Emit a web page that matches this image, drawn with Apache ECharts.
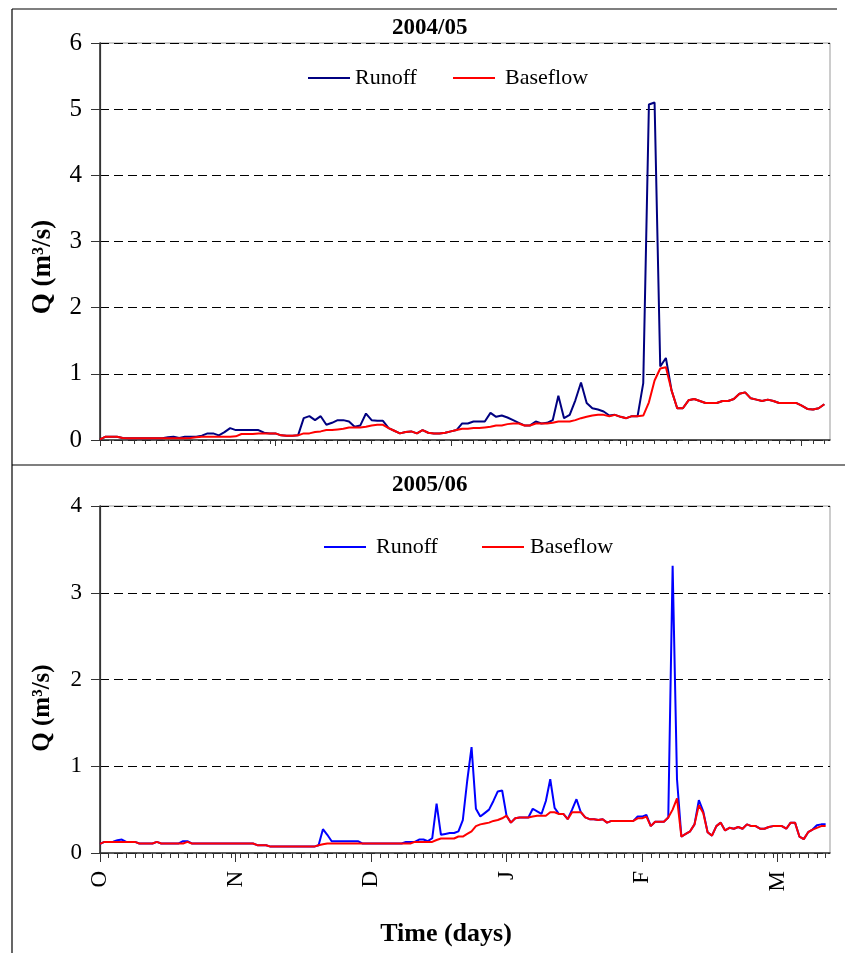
<!DOCTYPE html>
<html><head><meta charset="utf-8">
<script src="https://cdn.jsdelivr.net/npm/echarts@6/dist/echarts.min.js"></script>
<style>html,body{margin:0;padding:0;background:#fff}#c{width:845px;height:953px}</style>
</head><body><div id="c"></div>
<script>
// ---- data (daily discharge, m3/s) ----
const panelTitles = ['2004/05', '2005/06'];
const seriesNames = ['Runoff', 'Baseflow'];
const monthLabels = ['O', 'N', 'D', 'J', 'F', 'M'];
const monthStep = 31;

const topRunoff = [
0.01,0.05,0.05,0.05,0.03,0.025,0.025,0.025,0.025,0.025,
0.025,0.025,0.04,0.05,0.03,0.05,0.05,0.05,0.065,0.1,
0.1,0.07,0.12,0.18,0.15,0.15,0.15,0.15,0.15,0.11,
0.1,0.1,0.07,0.065,0.065,0.07,0.33,0.36,0.3,0.36,
0.23,0.26,0.3,0.3,0.28,0.2,0.22,0.4,0.3,0.29,
0.29,0.18,0.14,0.1,0.12,0.13,0.1,0.15,0.11,0.1,
0.1,0.11,0.13,0.15,0.25,0.25,0.28,0.28,0.28,0.41,
0.35,0.37,0.34,0.3,0.26,0.22,0.22,0.28,0.25,0.26,
0.3,0.67,0.33,0.38,0.6,0.87,0.56,0.48,0.46,0.43,
0.37,0.38,0.35,0.33,0.36,0.36,0.86,5.07,5.1,1.11,
1.24,0.75,0.48,0.48,0.6,0.62,0.59,0.56,0.56,0.56,
0.59,0.59,0.62,0.7,0.72,0.63,0.61,0.59,0.61,0.59,
0.56,0.56,0.56,0.56,0.52,0.47,0.46,0.48,0.54];

const topBaseflow = [
0.01,0.05,0.05,0.05,0.03,0.025,0.025,0.025,0.025,0.025,
0.025,0.025,0.025,0.025,0.025,0.025,0.03,0.04,0.05,0.05,
0.05,0.05,0.05,0.05,0.055,0.09,0.09,0.09,0.1,0.1,
0.1,0.1,0.07,0.065,0.065,0.07,0.1,0.1,0.12,0.13,
0.15,0.15,0.16,0.17,0.19,0.19,0.19,0.2,0.22,0.23,
0.23,0.18,0.14,0.1,0.12,0.13,0.1,0.15,0.11,0.1,
0.1,0.11,0.13,0.15,0.17,0.17,0.18,0.18,0.19,0.2,
0.22,0.22,0.24,0.25,0.25,0.22,0.22,0.25,0.25,0.25,
0.26,0.28,0.28,0.28,0.3,0.33,0.35,0.37,0.38,0.38,
0.36,0.38,0.35,0.33,0.36,0.36,0.37,0.57,0.9,1.08,
1.1,0.75,0.48,0.48,0.6,0.62,0.59,0.56,0.56,0.56,
0.59,0.59,0.62,0.7,0.72,0.63,0.61,0.59,0.61,0.59,
0.56,0.56,0.56,0.56,0.52,0.47,0.46,0.48,0.54];

const bottomRunoff = [
0.105,0.128,0.128,0.13,0.147,0.155,0.128,0.128,0.128,0.11,
0.11,0.11,0.11,0.128,0.11,0.11,0.11,0.11,0.11,0.136,
0.136,0.11,0.11,0.11,0.11,0.11,0.11,0.11,0.11,0.11,
0.11,0.11,0.11,0.11,0.11,0.11,0.09,0.09,0.09,0.074,
0.074,0.074,0.074,0.074,0.074,0.074,0.074,0.074,0.074,0.074,
0.09,0.275,0.21,0.136,0.136,0.136,0.136,0.136,0.136,0.136,
0.11,0.11,0.11,0.11,0.11,0.11,0.11,0.11,0.11,0.11,
0.128,0.128,0.128,0.155,0.155,0.136,0.17,0.57,0.21,0.22,
0.23,0.23,0.25,0.38,0.83,1.22,0.51,0.42,0.46,0.5,
0.6,0.71,0.72,0.43,0.35,0.4,0.41,0.41,0.41,0.51,
0.48,0.45,0.6,0.85,0.52,0.45,0.45,0.39,0.5,0.62,
0.47,0.41,0.39,0.39,0.38,0.39,0.35,0.37,0.37,0.37,
0.37,0.37,0.37,0.42,0.42,0.44,0.31,0.36,0.36,0.36,
0.41,3.31,0.85,0.19,0.22,0.25,0.33,0.61,0.48,0.24,
0.2,0.31,0.35,0.26,0.29,0.28,0.3,0.28,0.33,0.31,
0.31,0.28,0.28,0.3,0.31,0.31,0.31,0.28,0.35,0.35,
0.19,0.16,0.24,0.27,0.32,0.33,0.33];

const bottomBaseflow = [
0.105,0.128,0.128,0.128,0.128,0.128,0.128,0.128,0.128,0.11,
0.11,0.11,0.11,0.128,0.11,0.11,0.11,0.11,0.11,0.11,
0.128,0.11,0.11,0.11,0.11,0.11,0.11,0.11,0.11,0.11,
0.11,0.11,0.11,0.11,0.11,0.11,0.09,0.09,0.09,0.074,
0.074,0.074,0.074,0.074,0.074,0.074,0.074,0.074,0.074,0.074,
0.09,0.1,0.11,0.11,0.11,0.11,0.11,0.11,0.11,0.11,
0.11,0.11,0.11,0.11,0.11,0.11,0.11,0.11,0.11,0.11,
0.11,0.11,0.128,0.128,0.128,0.128,0.128,0.15,0.167,0.167,
0.167,0.167,0.19,0.19,0.22,0.25,0.31,0.33,0.34,0.35,
0.37,0.38,0.4,0.43,0.35,0.4,0.41,0.41,0.41,0.42,
0.43,0.43,0.43,0.47,0.47,0.45,0.45,0.39,0.47,0.47,
0.47,0.41,0.39,0.39,0.38,0.39,0.35,0.37,0.37,0.37,
0.37,0.37,0.37,0.4,0.4,0.42,0.31,0.36,0.36,0.36,
0.41,0.5,0.63,0.19,0.22,0.25,0.33,0.55,0.46,0.24,
0.2,0.31,0.35,0.26,0.29,0.28,0.3,0.28,0.33,0.31,
0.31,0.28,0.28,0.3,0.31,0.31,0.31,0.28,0.35,0.35,
0.19,0.16,0.24,0.27,0.29,0.31,0.31];

// ---- build ----
const FONT = "'Liberation Serif', 'Times New Roman', serif";
const topMax = topRunoff.length;      // axis extent in days
const botMax = bottomRunoff.length;
const pairs = a => a.map((v, i) => [i, v]);
function stepValues(max, step) { const r = []; for (let v = 0; v < max; v += step) r.push(v); return r; }
const topMajor = stepValues(topMax, monthStep);
const botMajor = stepValues(botMax, monthStep);

const chart = echarts.init(document.getElementById('c'), null, {renderer: 'canvas'});

function yAxisCfg(grid, max, fs) {
  return {
    gridIndex: grid, type: 'value', min: 0, max: max, interval: 1,
    axisLine: {show: true, lineStyle: {color: '#333', width: 1.5}},
    axisTick: {show: true, length: 9, lineStyle: {color: '#333'}},
    axisLabel: {fontFamily: FONT, fontSize: fs, color: '#000', margin: 18},
    splitLine: {show: true, lineStyle: {type: [9, 5], color: '#000', width: 1}}
  };
}
function rightBorder(grid, max) {
  return {gridIndex: grid, type: 'value', position: 'right', min: 0, max: max,
    axisLine: {show: true, lineStyle: {color: '#333', width: 1.2}},
    axisTick: {show: false}, axisLabel: {show: false}, splitLine: {show: false}};
}
function minorAxis(grid, max, len) {
  return {gridIndex: grid, type: 'value', position: 'bottom', min: 0, max: max,
    axisLine: {show: false, onZero: false},
    axisTick: {show: true, length: len, customValues: stepValues(max, 2), lineStyle: {color: '#333'}},
    axisLabel: {show: false}, splitLine: {show: false}};
}
function legendCfg(name, color, left, top, pad) {
  return {data: [{name: name, icon: 'rect', itemStyle: {color: color, borderWidth: 0}}],
    left: left, top: top, itemWidth: 42, itemHeight: 2, padding: 0, selectedMode: false,
    textStyle: {fontFamily: FONT, fontSize: 22, color: '#000', padding: [0, 0, 0, pad]}};
}

const option = {
  animation: false,
  backgroundColor: '#fff',
  textStyle: {fontFamily: FONT},
  title: [
    {text: panelTitles[0], left: 392, top: 17, padding: 0,
     textStyle: {fontFamily: FONT, fontSize: 23, fontWeight: 'bold', color: '#000'}},
    {text: panelTitles[1], left: 392, top: 474, padding: 0,
     textStyle: {fontFamily: FONT, fontSize: 23, fontWeight: 'bold', color: '#000'}}
  ],
  legend: [
    legendCfg(seriesNames[0], '#000080', 308, 67, 0),
    legendCfg(seriesNames[1], '#ff0000', 453, 67, 5),
    legendCfg(seriesNames[0], '#0000ff', 324, 536, 5),
    legendCfg(seriesNames[1], '#ff0000', 482, 536, 1)
  ],
  grid: [
    {left: 100, right: 15, top: 43, height: 397, show: true, borderColor: '#999', borderWidth: 1},
    {left: 100, right: 15, top: 506, height: 347, show: true, borderColor: '#999', borderWidth: 1}
  ],
  xAxis: [
    {gridIndex: 0, type: 'value', position: 'bottom', min: 0, max: topMax,
     axisLine: {show: true, onZero: false, lineStyle: {color: '#333', width: 1.5}},
     axisTick: {show: true, length: 6, customValues: topMajor, lineStyle: {color: '#333'}},
     axisLabel: {show: false}, splitLine: {show: false}},
    {gridIndex: 1, type: 'value', position: 'bottom', min: 0, max: botMax,
     axisLine: {show: true, onZero: false, lineStyle: {color: '#333', width: 1.5}},
     axisTick: {show: true, length: 9, customValues: botMajor, lineStyle: {color: '#333'}},
     axisLabel: {customValues: botMajor, rotate: 90, margin: 18, fontFamily: FONT, fontSize: 23, color: '#000',
       formatter: v => { const i = botMajor.indexOf(v); return i >= 0 ? monthLabels[i] : ''; }},
     splitLine: {show: false}},
    minorAxis(0, topMax, 4),
    minorAxis(1, botMax, 5)
  ],
  yAxis: [yAxisCfg(0, 6, 25), yAxisCfg(1, 4, 23), rightBorder(0, 6), rightBorder(1, 4)],
  series: [
    {name: seriesNames[0], type: 'line', xAxisIndex: 0, yAxisIndex: 0, data: pairs(topRunoff),
     symbol: 'none', lineStyle: {color: '#000080', width: 2}, itemStyle: {color: '#000080'}},
    {name: seriesNames[1], type: 'line', xAxisIndex: 0, yAxisIndex: 0, data: pairs(topBaseflow),
     symbol: 'none', lineStyle: {color: '#ff0000', width: 2}, itemStyle: {color: '#ff0000'}},
    {name: seriesNames[0], type: 'line', xAxisIndex: 1, yAxisIndex: 1, data: pairs(bottomRunoff),
     symbol: 'none', lineStyle: {color: '#0000ff', width: 2}, itemStyle: {color: '#0000ff'}},
    {name: seriesNames[1], type: 'line', xAxisIndex: 1, yAxisIndex: 1, data: pairs(bottomBaseflow),
     symbol: 'none', lineStyle: {color: '#ff0000', width: 2}, itemStyle: {color: '#ff0000'}}
  ],
  graphic: [
    {type: 'line', shape: {x1: 12, y1: 9, x2: 837, y2: 9}, style: {stroke: '#000', lineWidth: 1.2}, silent: true},
    {type: 'line', shape: {x1: 12, y1: 9, x2: 12, y2: 953}, style: {stroke: '#000', lineWidth: 1.2}, silent: true},
    {type: 'line', shape: {x1: 12, y1: 465, x2: 845, y2: 465}, style: {stroke: '#000', lineWidth: 1.2}, silent: true},
    {type: 'text', x: 43, y: 267, rotation: Math.PI / 2, silent: true,
     style: {text: 'Q (m³/s)', font: "bold 27px 'Liberation Serif', serif", fill: '#000', align: 'center', verticalAlign: 'middle'}},
    {type: 'text', x: 43, y: 708, rotation: Math.PI / 2, silent: true,
     style: {text: 'Q (m³/s)', font: "bold 25px 'Liberation Serif', serif", fill: '#000', align: 'center', verticalAlign: 'middle'}},
    {type: 'text', x: 446, y: 934, silent: true,
     style: {text: 'Time (days)', font: "bold 26px 'Liberation Serif', serif", fill: '#000', align: 'center', verticalAlign: 'middle'}}
  ]
};
chart.setOption(option);
</script></body></html>
